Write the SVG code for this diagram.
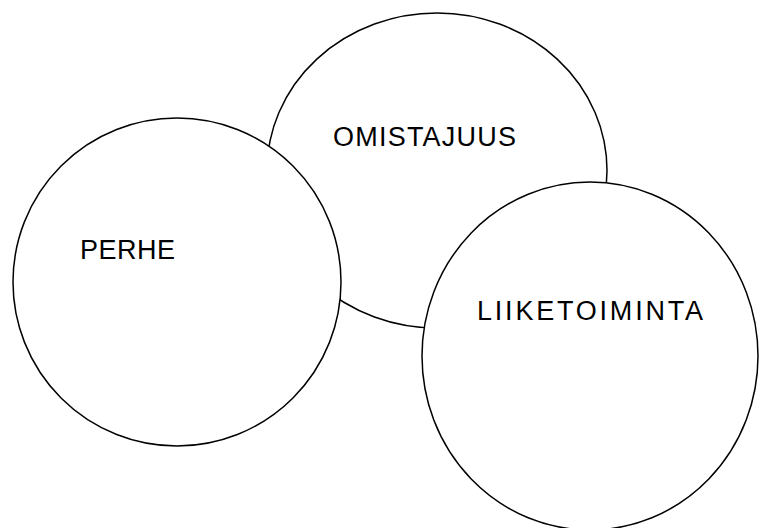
<svg xmlns="http://www.w3.org/2000/svg" width="767" height="528" viewBox="0 0 767 528">
<style>
.c{fill:#fff;stroke:#000;stroke-width:1.5}
.t{font-family:"Liberation Sans",Arial,sans-serif;font-size:27px;fill:#000}
</style>
<rect width="767" height="528" fill="#fff"/>
<g id="omistajuus">
<ellipse class="c" cx="437" cy="170.5" rx="170" ry="157.5"/>
<text class="t" x="333" y="146" textLength="183" lengthAdjust="spacing">OMISTAJUUS</text>
</g>
<g id="perhe">
<ellipse class="c" cx="177" cy="282" rx="164" ry="164"/>
<text class="t" x="80" y="259" textLength="95" lengthAdjust="spacing">PERHE</text>
</g>
<g id="liiketoiminta">
<ellipse class="c" cx="590" cy="356" rx="168" ry="174"/>
<text class="t" x="477" y="320" textLength="226" lengthAdjust="spacing">LIIKETOIMINTA</text>
</g>
<g id="connectors"/>
</svg>
